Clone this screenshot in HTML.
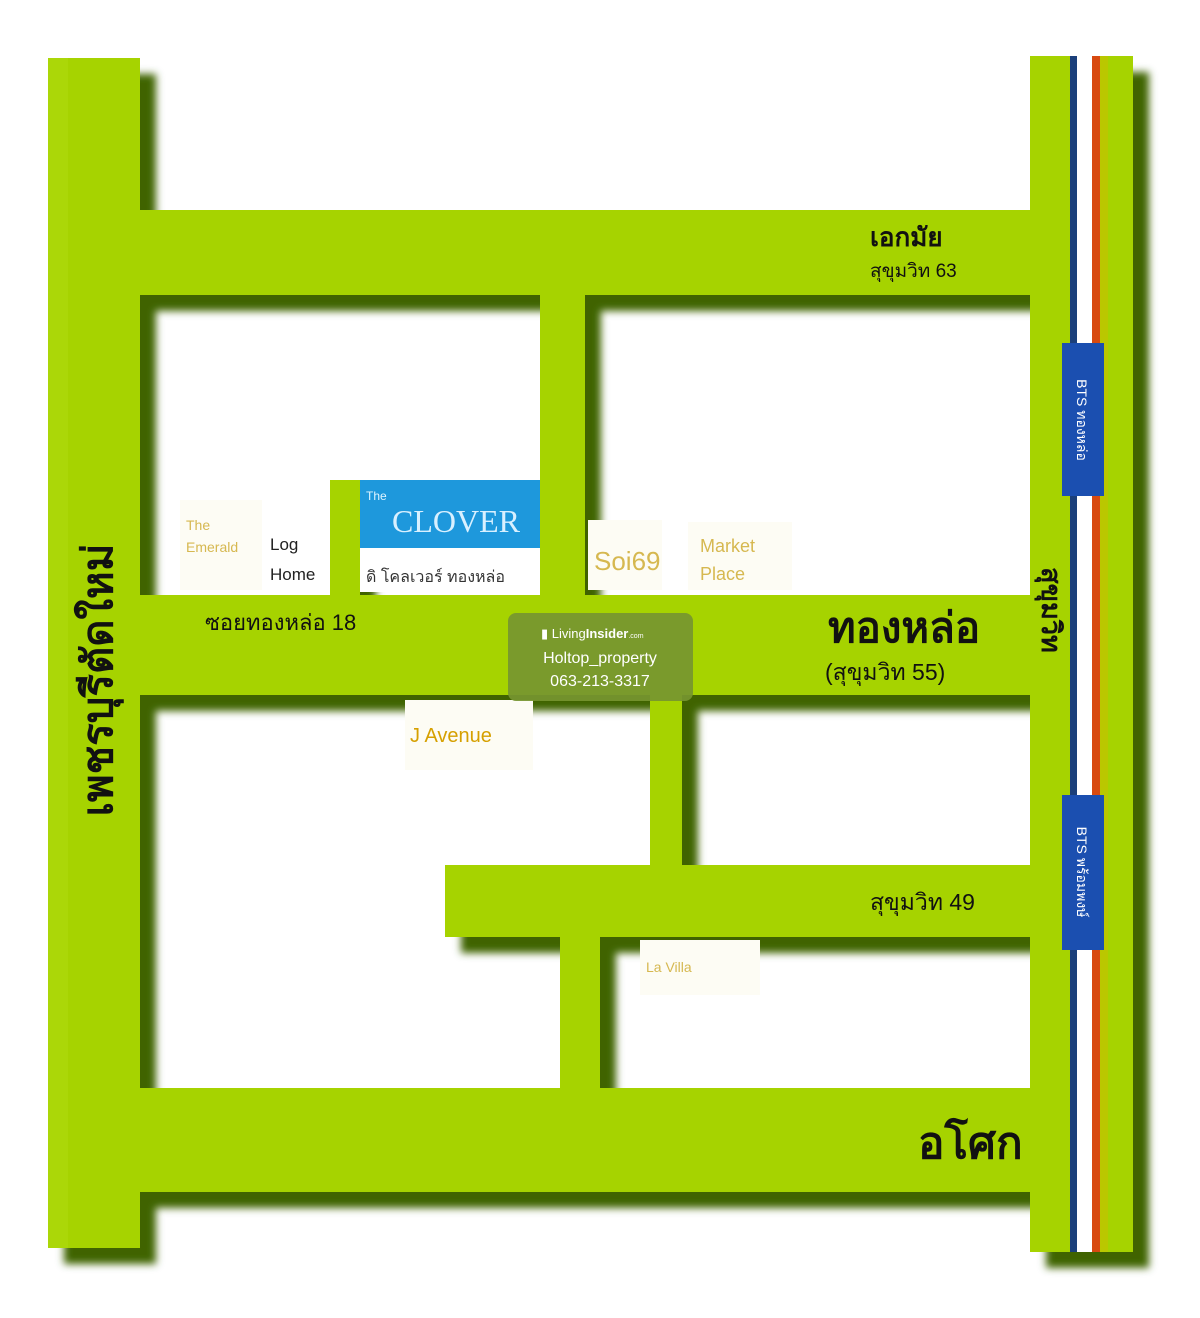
<!DOCTYPE html>
<html><head><meta charset="utf-8"><style>
html,body{margin:0;padding:0;background:#fff;}
svg{display:block;}
text{font-family:"Liberation Sans","DejaVu Sans",sans-serif;}
</style></head><body>
<svg width="1200" height="1318" viewBox="0 0 1200 1318" xmlns="http://www.w3.org/2000/svg">
<defs>
<filter id="sh" x="-10%" y="-10%" width="130%" height="130%">
<feGaussianBlur in="SourceAlpha" stdDeviation="4"/>
<feOffset dx="16" dy="16" result="o"/>
<feFlood flood-color="#3f6400"/>
<feComposite in2="o" operator="in"/>
<feMerge><feMergeNode/><feMergeNode in="SourceGraphic"/></feMerge>
</filter>
</defs>
<rect width="1200" height="1318" fill="#fff"/>
<g filter="url(#sh)" fill="#a6d300">
<rect x="48" y="58" width="92" height="1190"/>
<rect x="1030" y="56" width="103" height="1196"/>
<rect x="120" y="210" width="930" height="85"/>
<rect x="120" y="595" width="930" height="100"/>
<rect x="120" y="1088" width="930" height="104"/>
<rect x="540" y="280" width="45" height="330"/>
<rect x="650" y="680" width="32" height="200"/>
<rect x="445" y="865" width="600" height="72"/>
<rect x="560" y="925" width="40" height="170"/>
<rect x="330" y="480" width="30" height="120"/>
</g>
<rect x="48" y="58" width="20" height="1190" fill="#b0dc10" opacity="0.5"/>
<rect x="1070" y="56" width="7" height="1196" fill="#1b3f7a"/>
<rect x="1077" y="56" width="15" height="1196" fill="#fff"/>
<rect x="1092" y="56" width="8" height="1196" fill="#d84a10"/>
<rect x="1100" y="56" width="8" height="1196" fill="#c8c000" opacity="0.6"/>
<rect x="1062" y="343" width="42" height="153" fill="#1b4fb0"/>
<rect x="1062" y="795" width="42" height="155" fill="#1b4fb0"/>
<text transform="translate(1077,420) rotate(90)" font-size="14" fill="#fff" text-anchor="middle">BTS ทองหล่อ</text>
<text transform="translate(1077,872) rotate(90)" font-size="14" fill="#fff" text-anchor="middle">BTS พร้อมพงษ์</text>
<rect x="180" y="500" width="82" height="90" fill="#fdfcf4"/>
<text x="186" y="530" font-size="14" fill="#d6b850">The</text>
<text x="186" y="552" font-size="14" fill="#d6b850">Emerald</text>
<rect x="264" y="480" width="64" height="110" fill="#fff"/>
<text x="270" y="550" font-size="17" fill="#222">Log</text>
<text x="270" y="580" font-size="17" fill="#222">Home</text>
<rect x="360" y="480" width="180" height="68" fill="#1e98dc"/>
<text x="366" y="500" font-size="12" fill="#e0f4ff">The</text>
<text x="392" y="532" font-size="32" fill="#d8f0ff" style="font-family:'Liberation Serif',serif">CLOVER</text>
<rect x="360" y="548" width="180" height="44" fill="#fff"/>
<text x="366" y="582" font-size="16" fill="#333">ดิ โคลเวอร์ ทองหล่อ</text>
<rect x="588" y="520" width="74" height="70" fill="#fdfcf4"/>
<text x="594" y="570" font-size="26" fill="#d6b850">Soi69</text>
<rect x="688" y="522" width="104" height="68" fill="#fdfcf4"/>
<text x="700" y="552" font-size="18" fill="#d6b850">Market</text>
<text x="700" y="580" font-size="18" fill="#d6b850">Place</text>
<rect x="405" y="700" width="128" height="70" fill="#fdfcf4"/>
<text x="410" y="742" font-size="20" fill="#d6a000">J Avenue</text>
<rect x="640" y="940" width="120" height="55" fill="#fdfcf4"/>
<text x="646" y="972" font-size="14" fill="#d6b850">La Villa</text>
<text x="870" y="246" font-size="26" font-weight="bold" fill="#111">เอกมัย</text>
<text x="870" y="277" font-size="19" fill="#111">สุขุมวิท 63</text>
<text transform="translate(112,680) rotate(-90)" font-size="42" font-weight="bold" fill="#111" text-anchor="middle">เพชรบุรีตัดใหม่</text>
<text transform="translate(1042,610) rotate(90)" font-size="27" font-weight="bold" fill="#111" text-anchor="middle">สุขุมวิท</text>
<text x="205" y="630" font-size="22" fill="#111">ซอยทองหล่อ 18</text>
<text x="828" y="642" font-size="42" font-weight="bold" fill="#111">ทองหล่อ</text>
<text x="825" y="680" font-size="23" fill="#111">(สุขุมวิท 55)</text>
<text x="870" y="910" font-size="23" fill="#111">สุขุมวิท 49</text>
<text x="918" y="1158" font-size="44" font-weight="bold" fill="#111">อโศก</text>
<rect x="508" y="613" width="185" height="88" rx="8" fill="#769530" opacity="0.92"/>
<text x="541" y="638" font-size="13" fill="#fff">▮ Living<tspan font-weight="bold">Insider</tspan><tspan font-size="7">.com</tspan></text>
<text x="600" y="663" font-size="16" fill="#fff" text-anchor="middle">Holtop_property</text>
<text x="600" y="686" font-size="16" fill="#fff" text-anchor="middle">063-213-3317</text>
</svg>
</body></html>
